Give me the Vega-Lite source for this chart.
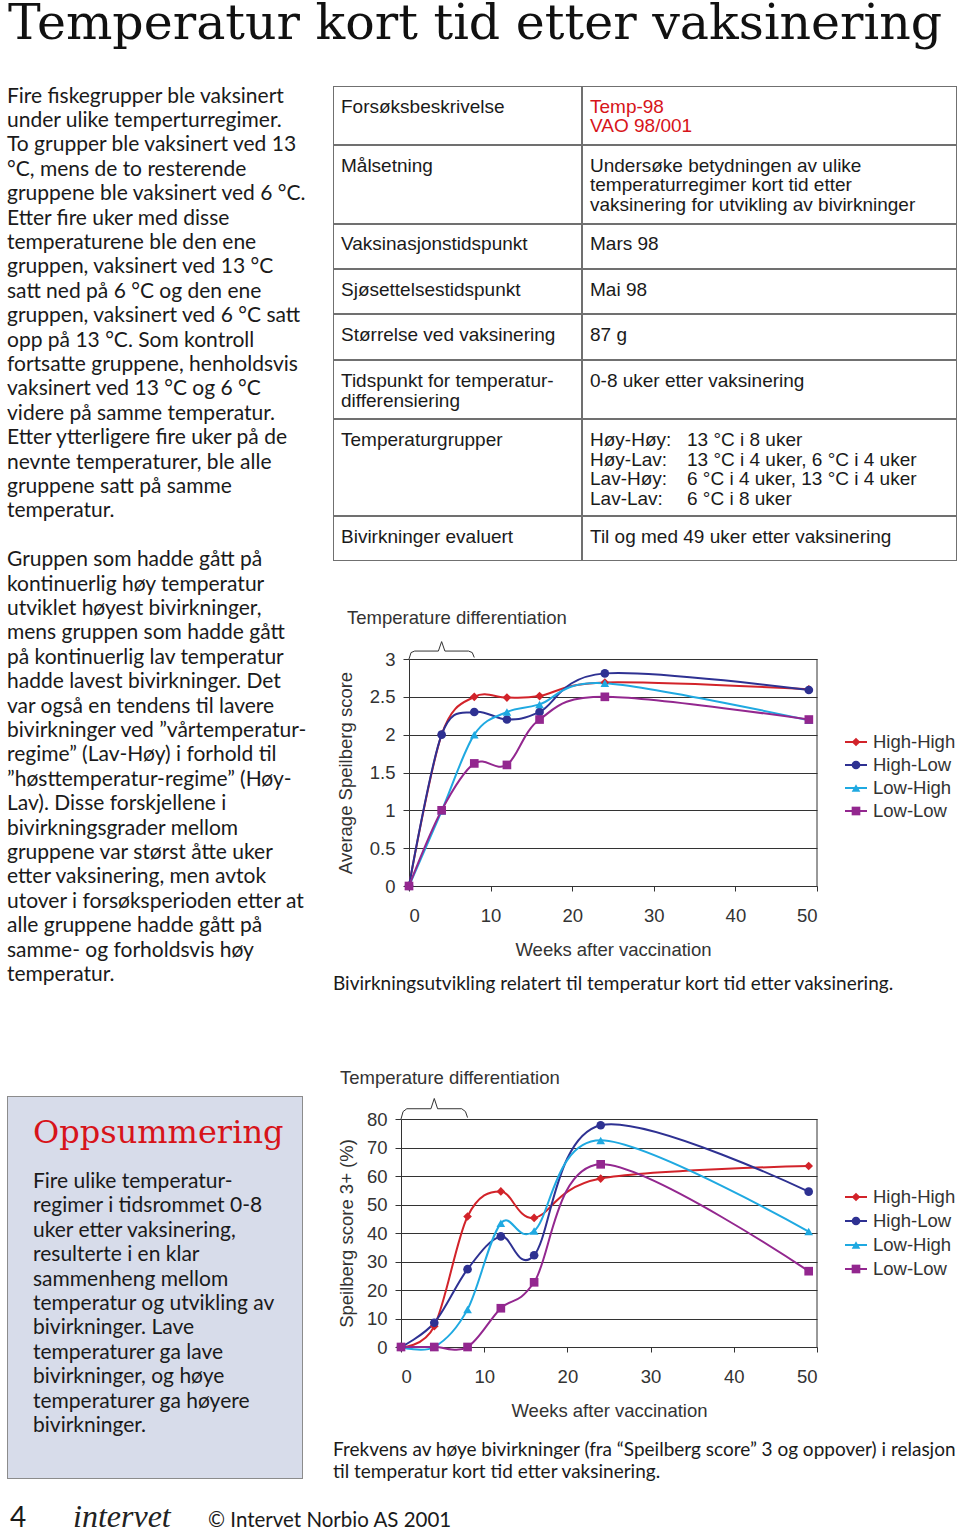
{
  "$schema": "https://vega.github.io/schema/vega-lite/v6.json",
  "background": "white",
  "padding": {"left": 7, "top": 0, "right": 0, "bottom": 0},
  "config": {
    "view": {"stroke": null},
    "text": {"font": "Liberation Sans", "fontSize": 19, "align": "left", "baseline": "middle", "color": "#1a1a1a"},
    "axis": {"labelFont": "Liberation Sans", "labelFontSize": 18.5, "labelColor": "#333", "titleFont": "Liberation Sans", "titleFontSize": 18.5, "titleFontWeight": "normal", "titleColor": "#333", "domainColor": "#333", "tickColor": "#333", "gridColor": "#333", "gridOpacity": 1, "gridWidth": 1},
    "title": {"font": "Liberation Sans", "fontSize": 18.5, "fontWeight": "normal", "color": "#333"}
  },
  "datasets": {
    "title": [{"line": 0, "text": "Temperatur kort tid etter vaksinering"}],
    "left": [
      {"line": 0, "text": "Fire fiskegrupper ble vaksinert"},
      {"line": 1, "text": "under ulike temperturregimer."},
      {"line": 2, "text": "To grupper ble vaksinert ved 13"},
      {"line": 3, "text": "°C, mens de to resterende"},
      {"line": 4, "text": "gruppene ble vaksinert ved 6 °C."},
      {"line": 5, "text": "Etter fire uker med disse"},
      {"line": 6, "text": "temperaturene ble den ene"},
      {"line": 7, "text": "gruppen, vaksinert ved 13 °C"},
      {"line": 8, "text": "satt ned på 6 °C og den ene"},
      {"line": 9, "text": "gruppen, vaksinert ved 6 °C satt"},
      {"line": 10, "text": "opp på 13 °C. Som kontroll"},
      {"line": 11, "text": "fortsatte gruppene, henholdsvis"},
      {"line": 12, "text": "vaksinert ved 13 °C og 6 °C"},
      {"line": 13, "text": "videre på samme temperatur."},
      {"line": 14, "text": "Etter ytterligere fire uker på de"},
      {"line": 15, "text": "nevnte temperaturer, ble alle"},
      {"line": 16, "text": "gruppene satt på samme"},
      {"line": 17, "text": "temperatur."},
      {"line": 19, "text": "Gruppen som hadde gått på"},
      {"line": 20, "text": "kontinuerlig høy temperatur"},
      {"line": 21, "text": "utviklet høyest bivirkninger,"},
      {"line": 22, "text": "mens gruppen som hadde gått"},
      {"line": 23, "text": "på kontinuerlig lav temperatur"},
      {"line": 24, "text": "hadde lavest bivirkninger. Det"},
      {"line": 25, "text": "var også en tendens til lavere"},
      {"line": 26, "text": "bivirkninger ved ”vårtemperatur-"},
      {"line": 27, "text": "regime” (Lav-Høy) i forhold til"},
      {"line": 28, "text": "”høsttemperatur-regime” (Høy-"},
      {"line": 29, "text": "Lav). Disse forskjellene i"},
      {"line": 30, "text": "bivirkningsgrader mellom"},
      {"line": 31, "text": "gruppene var størst åtte uker"},
      {"line": 32, "text": "etter vaksinering, men avtok"},
      {"line": 33, "text": "utover i forsøksperioden etter at"},
      {"line": 34, "text": "alle gruppene hadde gått på"},
      {"line": 35, "text": "samme- og forholdsvis høy"},
      {"line": 36, "text": "temperatur."}
    ],
    "table": [
      {"row": 1, "col": "label", "line": 0, "sub": 0, "text": "Forsøksbeskrivelse"},
      {"row": 1, "col": "value", "line": 0, "sub": 0, "text": "Temp-98"},
      {"row": 1, "col": "value", "line": 1, "sub": 0, "text": "VAO 98/001"},
      {"row": 2, "col": "label", "line": 0, "sub": 0, "text": "Målsetning"},
      {"row": 2, "col": "value", "line": 0, "sub": 0, "text": "Undersøke betydningen av ulike"},
      {"row": 2, "col": "value", "line": 1, "sub": 0, "text": "temperaturregimer kort tid etter"},
      {"row": 2, "col": "value", "line": 2, "sub": 0, "text": "vaksinering for utvikling av bivirkninger"},
      {"row": 3, "col": "label", "line": 0, "sub": 0, "text": "Vaksinasjonstidspunkt"},
      {"row": 3, "col": "value", "line": 0, "sub": 0, "text": "Mars 98"},
      {"row": 4, "col": "label", "line": 0, "sub": 0, "text": "Sjøsettelsestidspunkt"},
      {"row": 4, "col": "value", "line": 0, "sub": 0, "text": "Mai 98"},
      {"row": 5, "col": "label", "line": 0, "sub": 0, "text": "Størrelse ved vaksinering"},
      {"row": 5, "col": "value", "line": 0, "sub": 0, "text": "87 g"},
      {"row": 6, "col": "label", "line": 0, "sub": 0, "text": "Tidspunkt for temperatur-"},
      {"row": 6, "col": "label", "line": 1, "sub": 0, "text": "differensiering"},
      {"row": 6, "col": "value", "line": 0, "sub": 0, "text": "0-8 uker etter vaksinering"},
      {"row": 7, "col": "label", "line": 0, "sub": 0, "text": "Temperaturgrupper"},
      {"row": 7, "col": "value", "line": 0, "sub": 0, "text": "Høy-Høy:"},
      {"row": 7, "col": "value", "line": 0, "sub": 1, "text": "13 °C i 8 uker"},
      {"row": 7, "col": "value", "line": 1, "sub": 0, "text": "Høy-Lav:"},
      {"row": 7, "col": "value", "line": 1, "sub": 1, "text": "13 °C i 4 uker, 6 °C i 4 uker"},
      {"row": 7, "col": "value", "line": 2, "sub": 0, "text": "Lav-Høy:"},
      {"row": 7, "col": "value", "line": 2, "sub": 1, "text": "6 °C i 4 uker, 13 °C i 4 uker"},
      {"row": 7, "col": "value", "line": 3, "sub": 0, "text": "Lav-Lav:"},
      {"row": 7, "col": "value", "line": 3, "sub": 1, "text": "6 °C i 8 uker"},
      {"row": 8, "col": "label", "line": 0, "sub": 0, "text": "Bivirkninger evaluert"},
      {"row": 8, "col": "value", "line": 0, "sub": 0, "text": "Til og med 49 uker etter vaksinering"}
    ],
    "box": [
      {"kind": "heading", "line": -2, "text": "Oppsummering"},
      {"kind": "body", "line": 0, "text": "Fire ulike temperatur-"},
      {"kind": "body", "line": 1, "text": "regimer i tidsrommet 0-8"},
      {"kind": "body", "line": 2, "text": "uker etter vaksinering,"},
      {"kind": "body", "line": 3, "text": "resulterte i en klar"},
      {"kind": "body", "line": 4, "text": "sammenheng mellom"},
      {"kind": "body", "line": 5, "text": "temperatur og utvikling av"},
      {"kind": "body", "line": 6, "text": "bivirkninger. Lave"},
      {"kind": "body", "line": 7, "text": "temperaturer ga lave"},
      {"kind": "body", "line": 8, "text": "bivirkninger, og høye"},
      {"kind": "body", "line": 9, "text": "temperaturer ga høyere"},
      {"kind": "body", "line": 10, "text": "bivirkninger."}
    ],
    "cap1": [{"line": 0, "text": "Bivirkningsutvikling relatert til temperatur kort tid etter vaksinering."}],
    "cap2": [
      {"line": 0, "text": "Frekvens av høye bivirkninger (fra “Speilberg score” 3 og oppover) i relasjon"},
      {"line": 1, "text": "til temperatur kort tid etter vaksinering."}
    ],
    "footer": [
      {"item": "page", "text": "4"},
      {"item": "logo", "text": "intervet"},
      {"item": "copy", "text": "© Intervet Norbio AS 2001"}
    ],
    "frame": [{"part": "border"}],
    "groups": [{"group": "High-High"}, {"group": "High-Low"}, {"group": "Low-High"}, {"group": "Low-Low"}],
    "bracket1": [
      {"week": 0, "level": 3.0}, {"week": 0.25, "level": 3.085}, {"week": 0.7, "level": 3.105},
      {"week": 3.6, "level": 3.105}, {"week": 4, "level": 3.23}, {"week": 4.4, "level": 3.105},
      {"week": 7.3, "level": 3.105}, {"week": 7.75, "level": 3.085}, {"week": 8, "level": 3.02}
    ],
    "bracket2": [
      {"week": 0, "level": 80}, {"week": 0.25, "level": 82.6}, {"week": 0.7, "level": 83.6},
      {"week": 3.6, "level": 83.6}, {"week": 4, "level": 87.2}, {"week": 4.4, "level": 83.6},
      {"week": 7.3, "level": 83.6}, {"week": 7.75, "level": 82.6}, {"week": 8, "level": 80.5}
    ],
    "score": [
      {"week": 0, "group": "High-High", "score": 0}, {"week": 4, "group": "High-High", "score": 2.0}, {"week": 8, "group": "High-High", "score": 2.5}, {"week": 12, "group": "High-High", "score": 2.49}, {"week": 16, "group": "High-High", "score": 2.51}, {"week": 24, "group": "High-High", "score": 2.69}, {"week": 49, "group": "High-High", "score": 2.6},
      {"week": 0, "group": "High-Low", "score": 0}, {"week": 4, "group": "High-Low", "score": 2.0}, {"week": 8, "group": "High-Low", "score": 2.3}, {"week": 12, "group": "High-Low", "score": 2.2}, {"week": 16, "group": "High-Low", "score": 2.3}, {"week": 24, "group": "High-Low", "score": 2.81}, {"week": 49, "group": "High-Low", "score": 2.59},
      {"week": 0, "group": "Low-High", "score": 0}, {"week": 4, "group": "Low-High", "score": 0.99}, {"week": 8, "group": "Low-High", "score": 2.0}, {"week": 12, "group": "Low-High", "score": 2.3}, {"week": 16, "group": "Low-High", "score": 2.4}, {"week": 24, "group": "Low-High", "score": 2.68}, {"week": 49, "group": "Low-High", "score": 2.19},
      {"week": 0, "group": "Low-Low", "score": 0}, {"week": 4, "group": "Low-Low", "score": 1.0}, {"week": 8, "group": "Low-Low", "score": 1.62}, {"week": 12, "group": "Low-Low", "score": 1.6}, {"week": 16, "group": "Low-Low", "score": 2.2}, {"week": 24, "group": "Low-Low", "score": 2.5}, {"week": 49, "group": "Low-Low", "score": 2.2}
    ],
    "pct": [
      {"week": 0, "group": "High-High", "pct": 0}, {"week": 4, "group": "High-High", "pct": 7.3}, {"week": 8, "group": "High-High", "pct": 45.8}, {"week": 12, "group": "High-High", "pct": 54.6}, {"week": 16, "group": "High-High", "pct": 45.3}, {"week": 24, "group": "High-High", "pct": 59.1}, {"week": 49, "group": "High-High", "pct": 63.5},
      {"week": 0, "group": "High-Low", "pct": 0}, {"week": 4, "group": "High-Low", "pct": 8.5}, {"week": 8, "group": "High-Low", "pct": 27.3}, {"week": 12, "group": "High-Low", "pct": 38.8}, {"week": 16, "group": "High-Low", "pct": 32.2}, {"week": 24, "group": "High-Low", "pct": 77.8}, {"week": 49, "group": "High-Low", "pct": 54.5},
      {"week": 0, "group": "Low-High", "pct": 0}, {"week": 4, "group": "Low-High", "pct": 0}, {"week": 8, "group": "Low-High", "pct": 13.2}, {"week": 12, "group": "Low-High", "pct": 43.4}, {"week": 16, "group": "Low-High", "pct": 40.7}, {"week": 24, "group": "Low-High", "pct": 72.5}, {"week": 49, "group": "Low-High", "pct": 40.5},
      {"week": 0, "group": "Low-Low", "pct": 0}, {"week": 4, "group": "Low-Low", "pct": 0}, {"week": 8, "group": "Low-Low", "pct": 0}, {"week": 12, "group": "Low-Low", "pct": 13.6}, {"week": 16, "group": "Low-Low", "pct": 22.7}, {"week": 24, "group": "Low-Low", "pct": 64.1}, {"week": 49, "group": "Low-Low", "pct": 26.6}
    ]
  },
  "vconcat": [
    {
      "width": 950, "height": 85,
      "data": {"name": "title"},
      "mark": {"type": "text", "font": "DejaVu Serif", "fontSize": 49, "baseline": "alphabetic", "color": "#111"},
      "encoding": {
        "x": {"datum": 0, "type": "quantitative", "scale": {"domain": [0, 1], "range": [1, 950]}, "axis": null},
        "y": {"field": "line", "type": "quantitative", "scale": {"domain": [0, 1], "range": [39, 80]}, "axis": null},
        "text": {"field": "text"}
      }
    },
    {
      "hconcat": [
        {
          "width": 326, "height": 918,
          "data": {"name": "left"},
          "mark": {"type": "text", "font": "Lato", "fontSize": 21},
          "encoding": {
            "x": {"datum": 0, "type": "quantitative", "scale": {"domain": [0, 1], "range": [0, 326]}, "axis": null},
            "y": {"field": "line", "type": "quantitative", "scale": {"domain": [0, 36], "range": [10.5, 888.9]}, "axis": null},
            "text": {"field": "text"}
          }
        },
        {
          "vconcat": [
            {"hconcat": [
              {"width": 249, "height": 59, "data": {"name": "table"}, "layer": [{"data": {"name": "frame"}, "mark": {"type": "rect", "filled": false, "color": "#707070", "strokeWidth": 2, "clip": true}, "encoding": {}}, {"transform": [{"filter": "datum.row === 1 && datum.col === 'label'"}], "mark": "text", "encoding": {"x": {"field": "sub", "type": "ordinal", "scale": {"type": "point", "padding": 0, "domain": [0, 1], "range": [8, 105]}, "axis": null}, "y": {"field": "line", "type": "quantitative", "scale": {"domain": [0, 3], "range": [20.5, 79]}, "axis": null}, "text": {"field": "text"}}}]},
              {"width": 375, "height": 59, "data": {"name": "table"}, "layer": [{"data": {"name": "frame"}, "mark": {"type": "rect", "filled": false, "color": "#707070", "strokeWidth": 2, "clip": true}, "encoding": {}}, {"transform": [{"filter": "datum.row === 1 && datum.col === 'value'"}], "mark": {"type": "text", "color": "#d7141a"}, "encoding": {"x": {"field": "sub", "type": "ordinal", "scale": {"type": "point", "padding": 0, "domain": [0, 1], "range": [8, 105]}, "axis": null}, "y": {"field": "line", "type": "quantitative", "scale": {"domain": [0, 3], "range": [20.5, 79]}, "axis": null}, "text": {"field": "text"}}}]}
            ], "spacing": 0, "align": "none"},
            {"hconcat": [
              {"width": 249, "height": 79, "data": {"name": "table"}, "layer": [{"data": {"name": "frame"}, "mark": {"type": "rect", "filled": false, "color": "#707070", "strokeWidth": 2, "clip": true}, "encoding": {}}, {"transform": [{"filter": "datum.row === 2 && datum.col === 'label'"}], "mark": "text", "encoding": {"x": {"field": "sub", "type": "ordinal", "scale": {"type": "point", "padding": 0, "domain": [0, 1], "range": [8, 105]}, "axis": null}, "y": {"field": "line", "type": "quantitative", "scale": {"domain": [0, 3], "range": [20.5, 79]}, "axis": null}, "text": {"field": "text"}}}]},
              {"width": 375, "height": 79, "data": {"name": "table"}, "layer": [{"data": {"name": "frame"}, "mark": {"type": "rect", "filled": false, "color": "#707070", "strokeWidth": 2, "clip": true}, "encoding": {}}, {"transform": [{"filter": "datum.row === 2 && datum.col === 'value'"}], "mark": "text", "encoding": {"x": {"field": "sub", "type": "ordinal", "scale": {"type": "point", "padding": 0, "domain": [0, 1], "range": [8, 105]}, "axis": null}, "y": {"field": "line", "type": "quantitative", "scale": {"domain": [0, 3], "range": [20.5, 79]}, "axis": null}, "text": {"field": "text"}}}]}
            ], "spacing": 0, "align": "none"},
            {"hconcat": [
              {"width": 249, "height": 45, "data": {"name": "table"}, "layer": [{"data": {"name": "frame"}, "mark": {"type": "rect", "filled": false, "color": "#707070", "strokeWidth": 2, "clip": true}, "encoding": {}}, {"transform": [{"filter": "datum.row === 3 && datum.col === 'label'"}], "mark": "text", "encoding": {"x": {"field": "sub", "type": "ordinal", "scale": {"type": "point", "padding": 0, "domain": [0, 1], "range": [8, 105]}, "axis": null}, "y": {"field": "line", "type": "quantitative", "scale": {"domain": [0, 3], "range": [20, 78.5]}, "axis": null}, "text": {"field": "text"}}}]},
              {"width": 375, "height": 45, "data": {"name": "table"}, "layer": [{"data": {"name": "frame"}, "mark": {"type": "rect", "filled": false, "color": "#707070", "strokeWidth": 2, "clip": true}, "encoding": {}}, {"transform": [{"filter": "datum.row === 3 && datum.col === 'value'"}], "mark": "text", "encoding": {"x": {"field": "sub", "type": "ordinal", "scale": {"type": "point", "padding": 0, "domain": [0, 1], "range": [8, 105]}, "axis": null}, "y": {"field": "line", "type": "quantitative", "scale": {"domain": [0, 3], "range": [20, 78.5]}, "axis": null}, "text": {"field": "text"}}}]}
            ], "spacing": 0, "align": "none"},
            {"hconcat": [
              {"width": 249, "height": 45, "data": {"name": "table"}, "layer": [{"data": {"name": "frame"}, "mark": {"type": "rect", "filled": false, "color": "#707070", "strokeWidth": 2, "clip": true}, "encoding": {}}, {"transform": [{"filter": "datum.row === 4 && datum.col === 'label'"}], "mark": "text", "encoding": {"x": {"field": "sub", "type": "ordinal", "scale": {"type": "point", "padding": 0, "domain": [0, 1], "range": [8, 105]}, "axis": null}, "y": {"field": "line", "type": "quantitative", "scale": {"domain": [0, 3], "range": [20.5, 79]}, "axis": null}, "text": {"field": "text"}}}]},
              {"width": 375, "height": 45, "data": {"name": "table"}, "layer": [{"data": {"name": "frame"}, "mark": {"type": "rect", "filled": false, "color": "#707070", "strokeWidth": 2, "clip": true}, "encoding": {}}, {"transform": [{"filter": "datum.row === 4 && datum.col === 'value'"}], "mark": "text", "encoding": {"x": {"field": "sub", "type": "ordinal", "scale": {"type": "point", "padding": 0, "domain": [0, 1], "range": [8, 105]}, "axis": null}, "y": {"field": "line", "type": "quantitative", "scale": {"domain": [0, 3], "range": [20.5, 79]}, "axis": null}, "text": {"field": "text"}}}]}
            ], "spacing": 0, "align": "none"},
            {"hconcat": [
              {"width": 249, "height": 46, "data": {"name": "table"}, "layer": [{"data": {"name": "frame"}, "mark": {"type": "rect", "filled": false, "color": "#707070", "strokeWidth": 2, "clip": true}, "encoding": {}}, {"transform": [{"filter": "datum.row === 5 && datum.col === 'label'"}], "mark": "text", "encoding": {"x": {"field": "sub", "type": "ordinal", "scale": {"type": "point", "padding": 0, "domain": [0, 1], "range": [8, 105]}, "axis": null}, "y": {"field": "line", "type": "quantitative", "scale": {"domain": [0, 3], "range": [21, 79.5]}, "axis": null}, "text": {"field": "text"}}}]},
              {"width": 375, "height": 46, "data": {"name": "table"}, "layer": [{"data": {"name": "frame"}, "mark": {"type": "rect", "filled": false, "color": "#707070", "strokeWidth": 2, "clip": true}, "encoding": {}}, {"transform": [{"filter": "datum.row === 5 && datum.col === 'value'"}], "mark": "text", "encoding": {"x": {"field": "sub", "type": "ordinal", "scale": {"type": "point", "padding": 0, "domain": [0, 1], "range": [8, 105]}, "axis": null}, "y": {"field": "line", "type": "quantitative", "scale": {"domain": [0, 3], "range": [21, 79.5]}, "axis": null}, "text": {"field": "text"}}}]}
            ], "spacing": 0, "align": "none"},
            {"hconcat": [
              {"width": 249, "height": 59, "data": {"name": "table"}, "layer": [{"data": {"name": "frame"}, "mark": {"type": "rect", "filled": false, "color": "#707070", "strokeWidth": 2, "clip": true}, "encoding": {}}, {"transform": [{"filter": "datum.row === 6 && datum.col === 'label'"}], "mark": "text", "encoding": {"x": {"field": "sub", "type": "ordinal", "scale": {"type": "point", "padding": 0, "domain": [0, 1], "range": [8, 105]}, "axis": null}, "y": {"field": "line", "type": "quantitative", "scale": {"domain": [0, 3], "range": [21, 79.5]}, "axis": null}, "text": {"field": "text"}}}]},
              {"width": 375, "height": 59, "data": {"name": "table"}, "layer": [{"data": {"name": "frame"}, "mark": {"type": "rect", "filled": false, "color": "#707070", "strokeWidth": 2, "clip": true}, "encoding": {}}, {"transform": [{"filter": "datum.row === 6 && datum.col === 'value'"}], "mark": "text", "encoding": {"x": {"field": "sub", "type": "ordinal", "scale": {"type": "point", "padding": 0, "domain": [0, 1], "range": [8, 105]}, "axis": null}, "y": {"field": "line", "type": "quantitative", "scale": {"domain": [0, 3], "range": [21, 79.5]}, "axis": null}, "text": {"field": "text"}}}]}
            ], "spacing": 0, "align": "none"},
            {"hconcat": [
              {"width": 249, "height": 97, "data": {"name": "table"}, "layer": [{"data": {"name": "frame"}, "mark": {"type": "rect", "filled": false, "color": "#707070", "strokeWidth": 2, "clip": true}, "encoding": {}}, {"transform": [{"filter": "datum.row === 7 && datum.col === 'label'"}], "mark": "text", "encoding": {"x": {"field": "sub", "type": "ordinal", "scale": {"type": "point", "padding": 0, "domain": [0, 1], "range": [8, 105]}, "axis": null}, "y": {"field": "line", "type": "quantitative", "scale": {"domain": [0, 3], "range": [21, 79.5]}, "axis": null}, "text": {"field": "text"}}}]},
              {"width": 375, "height": 97, "data": {"name": "table"}, "layer": [{"data": {"name": "frame"}, "mark": {"type": "rect", "filled": false, "color": "#707070", "strokeWidth": 2, "clip": true}, "encoding": {}}, {"transform": [{"filter": "datum.row === 7 && datum.col === 'value'"}], "mark": "text", "encoding": {"x": {"field": "sub", "type": "ordinal", "scale": {"type": "point", "padding": 0, "domain": [0, 1], "range": [8, 105]}, "axis": null}, "y": {"field": "line", "type": "quantitative", "scale": {"domain": [0, 3], "range": [21, 79.5]}, "axis": null}, "text": {"field": "text"}}}]}
            ], "spacing": 0, "align": "none"},
            {"hconcat": [
              {"width": 249, "height": 45, "data": {"name": "table"}, "layer": [{"data": {"name": "frame"}, "mark": {"type": "rect", "filled": false, "color": "#707070", "strokeWidth": 2, "clip": true}, "encoding": {}}, {"transform": [{"filter": "datum.row === 8 && datum.col === 'label'"}], "mark": "text", "encoding": {"x": {"field": "sub", "type": "ordinal", "scale": {"type": "point", "padding": 0, "domain": [0, 1], "range": [8, 105]}, "axis": null}, "y": {"field": "line", "type": "quantitative", "scale": {"domain": [0, 3], "range": [21, 79.5]}, "axis": null}, "text": {"field": "text"}}}]},
              {"width": 375, "height": 45, "data": {"name": "table"}, "layer": [{"data": {"name": "frame"}, "mark": {"type": "rect", "filled": false, "color": "#707070", "strokeWidth": 2, "clip": true}, "encoding": {}}, {"transform": [{"filter": "datum.row === 8 && datum.col === 'value'"}], "mark": "text", "encoding": {"x": {"field": "sub", "type": "ordinal", "scale": {"type": "point", "padding": 0, "domain": [0, 1], "range": [8, 105]}, "axis": null}, "y": {"field": "line", "type": "quantitative", "scale": {"domain": [0, 3], "range": [21, 79.5]}, "axis": null}, "text": {"field": "text"}}}]}
            ], "spacing": 0, "align": "none"},
            {"hconcat": [
              {
                "width": 500, "height": 403,
                "title": {"text": "Temperature differentiation", "anchor": "start", "dx": 14, "offset": -81.7, "baseline": "alphabetic"},
                "layer": [
                  {"data": {"name": "bracket1"}, "mark": {"type": "line", "color": "#333", "strokeWidth": 1}, "encoding": {"x": {"field": "week", "type": "quantitative"}, "y": {"field": "level", "type": "quantitative"}}},
                  {"data": {"values": [{"edge": "right"}]}, "mark": {"type": "rule", "color": "#333", "strokeWidth": 1}, "encoding": {"x": {"datum": 50, "type": "quantitative"}, "y": {"datum": 0, "type": "quantitative"}, "y2": {"datum": 3}}},
                  {"data": {"name": "score"}, "mark": {"type": "line", "interpolate": "cardinal", "strokeWidth": 2},
                    "encoding": {
                      "x": {"field": "week", "type": "quantitative", "scale": {"domain": [0, 50], "range": [76, 484], "nice": false}, "axis": {"title": "Weeks after vaccination", "values": [0, 10, 20, 30, 40, 50], "grid": false, "tickSize": 5, "labelPadding": 15, "titlePadding": 16, "offset": -78}},
                      "y": {"field": "score", "type": "quantitative", "scale": {"domain": [0, 3], "range": [325, 98], "nice": false}, "axis": {"title": "Average Speilberg score", "values": [0, 0.5, 1, 1.5, 2, 2.5, 3], "format": "~g", "grid": true, "tickSize": 6, "labelPadding": 8, "titlePadding": 14, "offset": -76}},
                      "color": {"field": "group", "type": "nominal", "scale": {"domain": ["High-High", "High-Low", "Low-High", "Low-Low"], "range": ["#d2232a", "#2e3192", "#1fa9e1", "#93278f"]}, "legend": null}
                    }},
                  {"data": {"name": "score"}, "mark": {"type": "point", "filled": true, "opacity": 1, "size": 75},
                    "encoding": {
                      "x": {"field": "week", "type": "quantitative"},
                      "y": {"field": "score", "type": "quantitative"},
                      "color": {"field": "group", "type": "nominal", "legend": null},
                      "shape": {"field": "group", "type": "nominal", "scale": {"domain": ["High-High", "High-Low", "Low-High", "Low-Low"], "range": ["diamond", "circle", "triangle-up", "square"]}, "legend": null}
                    }}
                ]
              },
              {
                "width": 124, "height": 403,
                "data": {"name": "groups"},
                "encoding": {"y": {"field": "group", "type": "nominal", "scale": {"type": "point", "padding": 0, "domain": ["High-High", "High-Low", "Low-High", "Low-Low"], "range": [181, 250]}, "axis": null}},
                "layer": [
                  {"mark": {"type": "rule", "strokeWidth": 2}, "encoding": {"x": {"datum": 0, "type": "quantitative", "scale": {"domain": [0, 1], "range": [12, 34]}, "axis": null}, "x2": {"datum": 1}, "color": {"field": "group", "type": "nominal", "scale": {"domain": ["High-High", "High-Low", "Low-High", "Low-Low"], "range": ["#d2232a", "#2e3192", "#1fa9e1", "#93278f"]}, "legend": null}}},
                  {"mark": {"type": "point", "filled": true, "opacity": 1, "size": 75}, "encoding": {"x": {"datum": 0.5, "type": "quantitative"}, "color": {"field": "group", "type": "nominal", "legend": null}, "shape": {"field": "group", "type": "nominal", "scale": {"domain": ["High-High", "High-Low", "Low-High", "Low-Low"], "range": ["diamond", "circle", "triangle-up", "square"]}, "legend": null}}},
                  {"mark": {"type": "text", "font": "Liberation Sans", "fontSize": 18.5, "color": "#333"}, "encoding": {"x": {"datum": 1.27, "type": "quantitative"}, "text": {"field": "group"}}}
                ]
              }
            ], "spacing": 0, "align": "none"},
            {
              "width": 624, "height": 40,
              "data": {"name": "cap1"},
              "mark": {"type": "text", "font": "Lato", "fontSize": 19},
              "encoding": {
                "x": {"datum": 0, "type": "quantitative", "scale": {"domain": [0, 1], "range": [0, 624]}, "axis": null},
                "y": {"field": "line", "type": "quantitative", "scale": {"domain": [0, 1], "range": [20, 42]}, "axis": null},
                "text": {"field": "text"}
              }
            }
          ],
          "spacing": 0, "align": "none"
        }
      ],
      "spacing": 0, "align": "none"
    },
    {
      "hconcat": [
        {
          "vconcat": [
            {"width": 326, "height": 92, "data": {"values": []}, "mark": "point"},
            {
              "width": 296, "height": 383,
              "view": {"fill": "#d7dcea"},
              "data": {"name": "box"},
              "layer": [
                {"data": {"name": "frame"}, "mark": {"type": "rect", "filled": false, "color": "#8c8c8c", "strokeWidth": 2, "clip": true}, "encoding": {}},
                {"transform": [{"filter": "datum.kind === 'heading'"}], "mark": {"type": "text", "font": "DejaVu Serif", "fontSize": 32, "color": "#d7141a"},
                  "encoding": {
                    "x": {"datum": 0, "type": "quantitative", "scale": {"domain": [0, 1], "range": [26, 296]}, "axis": null},
                    "y": {"field": "line", "type": "quantitative", "scale": {"domain": [-2, 10], "range": [37.2, 330]}, "axis": null},
                    "text": {"field": "text"}
                  }},
                {"transform": [{"filter": "datum.kind === 'body'"}], "mark": {"type": "text", "font": "Lato", "fontSize": 21},
                  "encoding": {
                    "x": {"datum": 0, "type": "quantitative"},
                    "y": {"field": "line", "type": "quantitative"},
                    "text": {"field": "text"}
                  }}
              ]
            }
          ],
          "spacing": 0, "align": "none"
        },
        {
          "vconcat": [
            {"hconcat": [
              {
                "width": 500, "height": 436,
                "title": {"text": "Temperature differentiation", "anchor": "start", "dx": 7, "offset": -98.7, "baseline": "alphabetic"},
                "layer": [
                  {"data": {"name": "bracket2"}, "mark": {"type": "line", "color": "#333", "strokeWidth": 1}, "encoding": {"x": {"field": "week", "type": "quantitative"}, "y": {"field": "level", "type": "quantitative"}}},
                  {"data": {"values": [{"edge": "right"}]}, "mark": {"type": "rule", "color": "#333", "strokeWidth": 1}, "encoding": {"x": {"datum": 50, "type": "quantitative"}, "y": {"datum": 0, "type": "quantitative"}, "y2": {"datum": 80}}},
                  {"data": {"name": "pct"}, "mark": {"type": "line", "interpolate": "cardinal", "strokeWidth": 2},
                    "encoding": {
                      "x": {"field": "week", "type": "quantitative", "scale": {"domain": [0, 50], "range": [68, 484], "nice": false}, "axis": {"title": "Weeks after vaccination", "values": [0, 10, 20, 30, 40, 50], "grid": false, "tickSize": 5, "labelPadding": 15, "titlePadding": 16, "offset": -93}},
                      "y": {"field": "pct", "type": "quantitative", "scale": {"domain": [0, 80], "range": [343, 115], "nice": false}, "axis": {"title": "Speilberg score 3+ (%)", "values": [0, 10, 20, 30, 40, 50, 60, 70, 80], "grid": true, "tickSize": 6, "labelPadding": 8, "titlePadding": 10, "offset": -68}},
                      "color": {"field": "group", "type": "nominal", "scale": {"domain": ["High-High", "High-Low", "Low-High", "Low-Low"], "range": ["#d2232a", "#2e3192", "#1fa9e1", "#93278f"]}, "legend": null}
                    }},
                  {"data": {"name": "pct"}, "mark": {"type": "point", "filled": true, "opacity": 1, "size": 75},
                    "encoding": {
                      "x": {"field": "week", "type": "quantitative"},
                      "y": {"field": "pct", "type": "quantitative"},
                      "color": {"field": "group", "type": "nominal", "legend": null},
                      "shape": {"field": "group", "type": "nominal", "scale": {"domain": ["High-High", "High-Low", "Low-High", "Low-Low"], "range": ["diamond", "circle", "triangle-up", "square"]}, "legend": null}
                    }}
                ]
              },
              {
                "width": 124, "height": 436,
                "data": {"name": "groups"},
                "encoding": {"y": {"field": "group", "type": "nominal", "scale": {"type": "point", "padding": 0, "domain": ["High-High", "High-Low", "Low-High", "Low-Low"], "range": [193, 265]}, "axis": null}},
                "layer": [
                  {"mark": {"type": "rule", "strokeWidth": 2}, "encoding": {"x": {"datum": 0, "type": "quantitative", "scale": {"domain": [0, 1], "range": [12, 34]}, "axis": null}, "x2": {"datum": 1}, "color": {"field": "group", "type": "nominal", "scale": {"domain": ["High-High", "High-Low", "Low-High", "Low-Low"], "range": ["#d2232a", "#2e3192", "#1fa9e1", "#93278f"]}, "legend": null}}},
                  {"mark": {"type": "point", "filled": true, "opacity": 1, "size": 75}, "encoding": {"x": {"datum": 0.5, "type": "quantitative"}, "color": {"field": "group", "type": "nominal", "legend": null}, "shape": {"field": "group", "type": "nominal", "scale": {"domain": ["High-High", "High-Low", "Low-High", "Low-Low"], "range": ["diamond", "circle", "triangle-up", "square"]}, "legend": null}}},
                  {"mark": {"type": "text", "font": "Liberation Sans", "fontSize": 18.5, "color": "#333"}, "encoding": {"x": {"datum": 1.27, "type": "quantitative"}, "text": {"field": "group"}}}
                ]
              }
            ], "spacing": 0, "align": "none"},
            {
              "width": 624, "height": 40,
              "data": {"name": "cap2"},
              "mark": {"type": "text", "font": "Lato", "fontSize": 19},
              "encoding": {
                "x": {"datum": 0, "type": "quantitative", "scale": {"domain": [0, 1], "range": [0, 624]}, "axis": null},
                "y": {"field": "line", "type": "quantitative", "scale": {"domain": [0, 1], "range": [9.5, 31.5]}, "axis": null},
                "text": {"field": "text"}
              }
            }
          ],
          "spacing": 0, "align": "none"
        }
      ],
      "spacing": 0, "align": "none"
    },
    {
      "hconcat": [
        {"width": 58, "height": 45, "data": {"name": "footer"}, "transform": [{"filter": "datum.item === 'page'"}],
          "mark": {"type": "text", "font": "Lato", "fontSize": 28, "baseline": "alphabetic"},
          "encoding": {
            "x": {"datum": 0, "type": "quantitative", "scale": {"domain": [0, 1], "range": [3, 58]}, "axis": null},
            "y": {"datum": 0, "type": "quantitative", "scale": {"domain": [0, 1], "range": [45, 0]}, "axis": null},
            "text": {"field": "text"}
          }},
        {"width": 143, "height": 45, "data": {"name": "footer"}, "transform": [{"filter": "datum.item === 'logo'"}],
          "mark": {"type": "text", "font": "Liberation Serif", "fontSize": 32, "fontStyle": "italic", "baseline": "alphabetic", "color": "#222"},
          "encoding": {
            "x": {"datum": 0, "type": "quantitative", "scale": {"domain": [0, 1], "range": [8, 143]}, "axis": null},
            "y": {"datum": 0, "type": "quantitative", "scale": {"domain": [0, 1], "range": [45, 0]}, "axis": null},
            "text": {"field": "text"}
          }},
        {"width": 749, "height": 45, "data": {"name": "footer"}, "transform": [{"filter": "datum.item === 'copy'"}],
          "mark": {"type": "text", "font": "Lato", "fontSize": 20.5, "baseline": "alphabetic"},
          "encoding": {
            "x": {"datum": 0, "type": "quantitative", "scale": {"domain": [0, 1], "range": [0, 749]}, "axis": null},
            "y": {"datum": 0, "type": "quantitative", "scale": {"domain": [0, 1], "range": [45, 0]}, "axis": null},
            "text": {"field": "text"}
          }}
      ],
      "spacing": 0, "align": "none"
    }
  ],
  "spacing": 0, "align": "none"
}
